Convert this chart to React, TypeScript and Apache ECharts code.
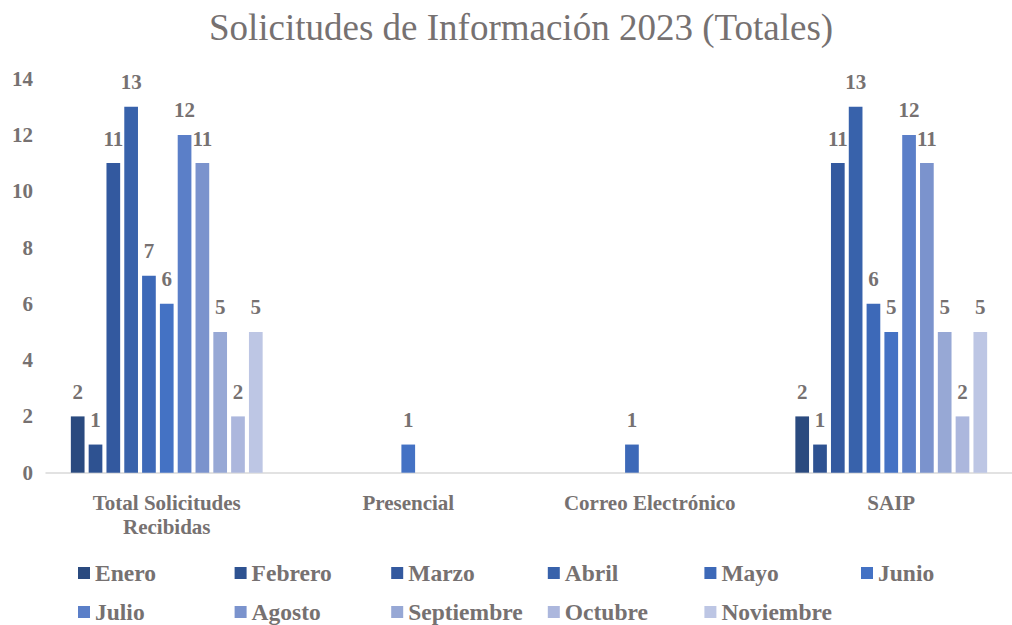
import React, { useEffect, useRef } from "react";
import * as echarts from "echarts";

const categories = ["Total Solicitudes\nRecibidas", "Presencial", "Correo Electrónico", "SAIP"];
const months = ["Enero", "Febrero", "Marzo", "Abril", "Mayo", "Junio", "Julio", "Agosto", "Septiembre", "Octubre", "Noviembre"];

const enero = [2, 0, 0, 2];
const febrero = [1, 0, 0, 1];
const marzo = [11, 0, 0, 11];
const abril = [13, 0, 0, 13];
const mayo = [7, 0, 1, 6];
const junio = [6, 1, 0, 5];
const julio = [12, 0, 0, 12];
const agosto = [11, 0, 0, 11];
const septiembre = [5, 0, 0, 5];
const octubre = [2, 0, 0, 2];
const noviembre = [5, 0, 0, 5];

const yTicks = { min: 0, max: 14, interval: 2 };

const monthValues = [enero, febrero, marzo, abril, mayo, junio, julio, agosto, septiembre, octubre, noviembre];
const colors = ["#2A4A7F", "#2E5291", "#33599F", "#3862AB", "#3D69B8", "#4472C4", "#5B7FC8", "#7B93CD", "#97A8D5", "#ACB7DD", "#BDC6E4"];

const FONT = "'Liberation Serif', 'Times New Roman', serif";
const GRAY = "#767171";

export default function App() {
  const ref = useRef<HTMLDivElement>(null);
  useEffect(() => {
    if (!ref.current) return;
    const chart = echarts.init(ref.current, undefined, { renderer: "svg" });
    const legends = months.map((m, i) => {
      const row = i < 6 ? 0 : 1;
      const col = i < 6 ? i : i - 6;
      return {
        data: [m],
        left: 78 + col * 156.6,
        top: row === 0 ? 561 : 600,
        padding: 0,
        itemWidth: 12,
        itemHeight: 12,
        icon: "rect",
        textStyle: { fontFamily: FONT, fontSize: 23.5, lineHeight: 24, fontWeight: "bold", color: GRAY },
      };
    });
    chart.setOption({
      animation: false,
      backgroundColor: "#ffffff",
      title: {
        text: "Solicitudes de Información 2023 (Totales)",
        left: 521,
        textAlign: "center",
        top: 9,
        padding: 0,
        textStyle: { fontFamily: FONT, fontSize: 37, fontWeight: "normal", color: GRAY },
      },
      legend: legends,
      grid: { left: 46, right: 0, top: 78.6, bottom: 152.3, containLabel: false, outerBoundsMode: "none" },
      xAxis: {
        type: "category",
        data: categories,
        axisLine: { show: true, lineStyle: { color: "#D9D9D9", width: 1.5 } },
        axisTick: { show: false },
        axisLabel: {
          interval: 0,
          margin: 18,
          fontFamily: FONT,
          fontSize: 21,
          fontWeight: "bold",
          color: GRAY,
          lineHeight: 24,
        },
      },
      yAxis: {
        type: "value",
        min: yTicks.min,
        max: yTicks.max,
        interval: yTicks.interval,
        splitLine: { show: false },
        axisLine: { show: false },
        axisTick: { show: false },
        axisLabel: { margin: 13, fontFamily: FONT, fontSize: 21, fontWeight: "bold", color: GRAY },
      },
      series: months.map((m, i) => ({
        name: m,
        type: "bar",
        data: monthValues[i],
        barWidth: 13.7,
        barGap: "30%",
        itemStyle: { color: colors[i] },
        label: {
          show: true,
          position: "top",
          distance: 14,
          fontFamily: FONT,
          fontSize: 21,
          fontWeight: "bold",
          color: GRAY,
          formatter: (p: any) => (p.value ? String(p.value) : ""),
        },
      })),
    });
    return () => chart.dispose();
  }, []);
  return <div ref={ref} style={{ position: "fixed", left: 0, top: 0, width: 1012, height: 625 }} />;
}
